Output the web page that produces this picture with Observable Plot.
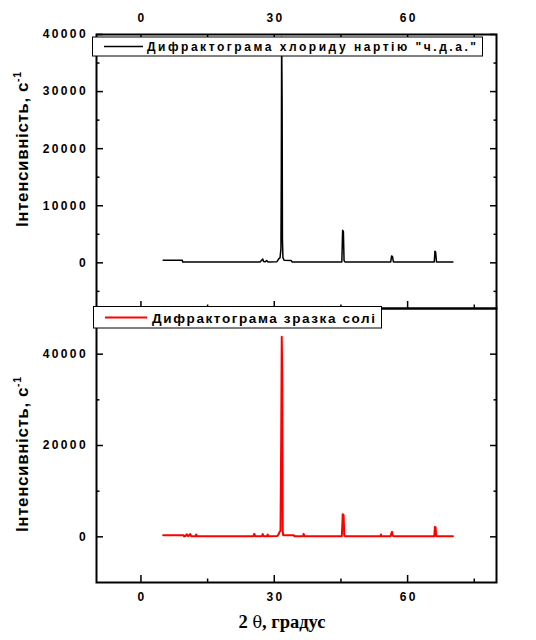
<!DOCTYPE html>
<html><head><meta charset="utf-8">
<script src="https://cdn.jsdelivr.net/npm/d3@7"></script>
<script src="https://cdn.jsdelivr.net/npm/@observablehq/plot@0.6"></script>
<style>
body{margin:0;background:#fff}
#wrap{position:relative;width:536px;height:640px;background:#fff}
#wrap svg{position:absolute;left:0;top:0}
</style></head><body><div id="wrap"></div>
<script>
// Top pattern: chemically pure NaCl (black)
const blackX = [5.0, 9.3, 9.4, 26.8, 27.2, 27.4, 27.6, 28.0, 28.3, 28.6, 30.6, 31.0, 31.3, 31.5, 31.58, 31.66, 31.76, 31.84, 31.95, 32.2, 33.8, 34.0, 45.2, 45.38, 45.55, 45.7, 45.9, 56.2, 56.4, 56.6, 56.8, 66.0, 66.15, 66.3, 66.5, 70.2];
const blackY = [450, 450, 150, 150, 500, 650, 250, 200, 400, 150, 200, 700, 900, 2500, 15500, 39500, 29200, 4000, 900, 450, 400, 150, 150, 5700, 5500, 400, 150, 150, 1200, 1100, 150, 150, 2050, 1900, 150, 150];
// Bottom pattern: salt sample (red)
const redX = [5.0, 9.6, 9.7, 10.0, 10.3, 10.6, 11.1, 11.3, 12.3, 12.4, 12.6, 25.3, 25.5, 25.7, 27.2, 27.4, 27.6, 28.4, 28.5, 28.7, 30.7, 31.0, 31.2, 31.4, 31.55, 31.68, 31.8, 31.9, 32.0, 34.4, 34.5, 36.5, 36.6, 36.8, 45.2, 45.4, 45.6, 45.75, 45.9, 53.9, 54.0, 54.1, 56.2, 56.35, 56.5, 56.65, 56.8, 66.0, 66.15, 66.3, 66.45, 70.2];
const redY = [370, 370, 100, 150, 550, 150, 600, 150, 150, 500, 150, 150, 650, 150, 150, 600, 150, 150, 500, 150, 200, 600, 1100, 1300, 20500, 43800, 35400, 1300, 370, 370, 150, 150, 650, 150, 150, 4970, 4750, 300, 150, 150, 500, 150, 150, 800, 1100, 300, 150, 150, 2190, 2040, 150, 150];

const xMajor = [0, 30, 60];
const xMinor = [15, 45, 75];
const topYMajor = [0, 10000, 20000, 30000, 40000];
const topYMinor = [-5000, 5000, 15000, 25000, 35000];
const botYMajor = [0, 20000, 40000];
const botYMinor = [10000, 30000];

const legendTop = "Дифрактограма хлориду нартію \"ч.д.а.\"";
const legendBottom = "Дифрактограма зразка солі";
const yTitle = "Інтенсивність, с";
const ySup = "-1";
const xTitleA = "2 ";
const xTitleTheta = "θ";
const xTitleB = ", градус";

const blackData = blackX.map((x, i) => ({x, y: blackY[i]}));
const redData = redX.map((x, i) => ({x, y: redY[i]}));

const plotStyle = {
  fontFamily: "'Liberation Sans', Arial, sans-serif",
  fontSize: "12px",
  fontWeight: "bold",
  letterSpacing: "2.4px",
  background: "transparent",
  overflow: "visible"
};
const fmt = d => String(d);
const blank = () => "";

function ticksY(major, minor, anchor) {
  return [
    Plot.axisY({ticks: major, anchor, tickSize: -7, tickFormat: blank, label: null, strokeWidth: 1.5}),
    Plot.axisY({ticks: minor, anchor, tickSize: -3.5, tickFormat: blank, label: null, strokeWidth: 1.5})
  ];
}
function ticksX(anchor) {
  return [
    Plot.axisX({ticks: xMajor, anchor, tickSize: -7, tickFormat: blank, label: null, strokeWidth: 1.5}),
    Plot.axisX({ticks: xMinor, anchor, tickSize: -3.5, tickFormat: blank, label: null, strokeWidth: 1.5})
  ];
}

const wrapEl = document.getElementById("wrap");

const bottomChart = Plot.plot({
  width: 536, height: 640,
  marginTop: 308, marginBottom: 58, marginLeft: 96, marginRight: 40,
  style: plotStyle,
  x: {domain: [-10, 80], axis: null},
  y: {domain: [-10000, 50000], axis: null},
  marks: [
    Plot.line(redData, {x: "x", y: "y", stroke: "#ff0000", strokeWidth: 2}),
    Plot.frame({strokeWidth: 2}),
    Plot.axisY({ticks: botYMajor, anchor: "left", tickSize: 0, tickPadding: 8.5, tickFormat: fmt, label: null}),
    ...ticksY(botYMajor, botYMinor, "left"),
    ...ticksY(botYMajor, botYMinor, "right"),
    Plot.axisX({ticks: xMajor, anchor: "bottom", tickSize: 0, tickPadding: 10, tickFormat: fmt, label: null, dx: 1.2}),
    ...ticksX("bottom")
  ]
});
wrapEl.appendChild(bottomChart);

const topChart = Plot.plot({
  width: 536, height: 320,
  marginTop: 34, marginBottom: 12, marginLeft: 96, marginRight: 40,
  style: plotStyle,
  x: {domain: [-10, 80], axis: null},
  y: {domain: [-8000, 40000], axis: null},
  marks: [
    Plot.line(blackData, {x: "x", y: "y", stroke: "#000", strokeWidth: 1.5, clip: true}),
    Plot.frame({strokeWidth: 2}),
    Plot.axisY({ticks: topYMajor, anchor: "left", tickSize: 0, tickPadding: 8.5, tickFormat: fmt, label: null}),
    ...ticksY(topYMajor, topYMinor, "left"),
    ...ticksY(topYMajor, topYMinor, "right"),
    Plot.axisX({ticks: xMajor, anchor: "top", tickSize: 0, tickPadding: 13, tickFormat: fmt, label: null, dx: 1.2}),
    ...ticksX("top"),
    ...ticksX("bottom")
  ]
});
wrapEl.appendChild(topChart);

// overlay: legends and axis titles
const ov = d3.select(wrapEl).append("svg").attr("width", 536).attr("height", 640);
const sans = "'Liberation Sans', Arial, sans-serif";

// top legend
ov.append("rect").attr("x", 92.5).attr("y", 37).attr("width", 390).attr("height", 19)
  .attr("fill", "#fff").attr("stroke", "#000").attr("stroke-width", 1);
ov.append("line").attr("x1", 104).attr("x2", 143).attr("y1", 46.5).attr("y2", 46.5)
  .attr("stroke", "#000").attr("stroke-width", 1.5);
ov.append("text").attr("x", 147).attr("y", 51).attr("font-family", sans).attr("font-weight", "bold")
  .attr("font-size", 12).attr("textLength", 329).attr("lengthAdjust", "spacing").text(legendTop);

// bottom legend
ov.append("rect").attr("x", 93.5).attr("y", 306.5).attr("width", 288).attr("height", 21.5)
  .attr("fill", "#fff").attr("stroke", "#000").attr("stroke-width", 1);
ov.append("line").attr("x1", 105).attr("x2", 147).attr("y1", 317.5).attr("y2", 317.5)
  .attr("stroke", "#ff0000").attr("stroke-width", 2);
ov.append("text").attr("x", 152).attr("y", 323).attr("font-family", sans).attr("font-weight", "bold")
  .attr("font-size", 13.5).attr("textLength", 223).attr("lengthAdjust", "spacing").text(legendBottom);

// y titles
function yLabel(x, y) {
  const t = ov.append("text").attr("transform", `translate(${x},${y}) rotate(-90)`)
    .attr("font-family", sans).attr("font-weight", "bold").attr("font-size", 17)
    .attr("letter-spacing", "0.6px");
  t.append("tspan").text(yTitle);
  t.append("tspan").attr("dy", -7).attr("font-size", 10.5).text(ySup);
}
yLabel(27.5, 227);
yLabel(27.5, 532);

// x title
const xt = ov.append("text").attr("x", 282).attr("y", 628).attr("text-anchor", "middle")
  .attr("font-family", "'Liberation Serif', 'Times New Roman', serif").attr("font-weight", "bold")
  .attr("font-size", 18.5);
xt.append("tspan").text(xTitleA);
xt.append("tspan").attr("font-weight", "normal").attr("font-family", "'DejaVu Serif', serif").attr("font-size", 16).text(xTitleTheta);
xt.append("tspan").text(xTitleB);
</script>
</body></html>
